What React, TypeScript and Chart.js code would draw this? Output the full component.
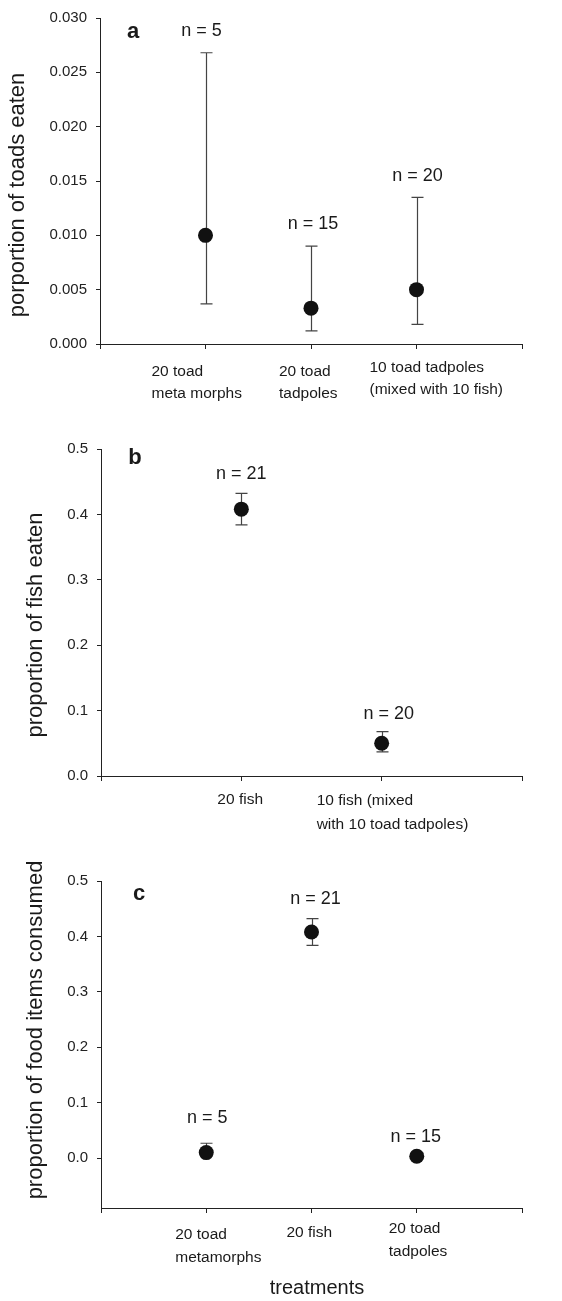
import { useEffect, useRef } from "react";
import { Chart, registerables } from "chart.js";
Chart.register(...registerables);

const FONT = '"Liberation Sans", Arial, Helvetica, sans-serif';

// ---------- Panel a ----------
const catsA = [["20 toad", "meta morphs"], ["20 toad", "tadpoles"], ["10 toad tadpoles", "(mixed with 10 fish)"]];
const meanA = [0.01, 0.0033, 0.005];
const lowA = [0.0037, 0.0012, 0.0018];
const highA = [0.0268, 0.009, 0.0135];
const nA = ["n = 5", "n = 15", "n = 20"];
const yTicksA = [0, 0.005, 0.01, 0.015, 0.02, 0.025, 0.03];
const yTitleA = "porportion of toads eaten";

// ---------- Panel b ----------
const catsB = [["20 fish"], ["10 fish (mixed", "with 10 toad tadpoles)"]];
const meanB = [0.408, 0.05];
const lowB = [0.384, 0.037];
const highB = [0.432, 0.068];
const nB = ["n = 21", "n = 20"];
const yTicksB = [0, 0.1, 0.2, 0.3, 0.4, 0.5];
const yTitleB = "proportion of fish eaten";

// ---------- Panel c ----------
const catsC = [["20 toad", "metamorphs"], ["20 fish"], ["20 toad", "tadpoles"]];
const meanC = [0.01, 0.408, 0.0033];
const lowC = [0.0037, 0.384, 0.0012];
const highC = [0.0268, 0.432, 0.009];
const nC = ["n = 5", "n = 21", "n = 15"];
const yTicksC = [0, 0.1, 0.2, 0.3, 0.4, 0.5];
const yTitleC = "proportion of food items consumed";
const xTitleC = "treatments";

type Panel = {
  cats: string[][]; mean: number[]; low: number[]; high: number[]; n: string[];
  yTicks: number[]; yTitle: string; xTitle?: string; letter: string;
  yMin: number; yMax: number; dec: number;
  style: any;
};

const panels: Panel[] = [
  {
    cats: catsA, mean: meanA, low: lowA, high: highA, n: nA, yTicks: yTicksA, yTitle: yTitleA, letter: "a",
    yMin: 0, yMax: 0.03, dec: 3,
    style: {
      top: 0, height: 412, area: { left: 100, top: 17, right: 522, bottom: 344 },
      letterPos: [133, 38], yTitlePos: [18, 195],
      catDx: [-54, -32, -47], catDy: [28, 28, 24], lineH: 22,
      nOff: [[-4, -21.5], [2, -22], [1, -21.5]],
    },
  },
  {
    cats: catsB, mean: meanB, low: lowB, high: highB, n: nB, yTicks: yTicksB, yTitle: yTitleB, letter: "b",
    yMin: 0, yMax: 0.5, dec: 1,
    style: {
      top: 420, height: 420, area: { left: 101, top: 29, right: 522, bottom: 356 },
      letterPos: [135, 44], yTitlePos: [36, 205],
      catDx: [-24, -65], catDy: [24, 25], lineH: 24,
      nOff: [[0, -19], [7, -17]],
    },
  },
  {
    cats: catsC, mean: meanC, low: lowC, high: highC, n: nC, yTicks: yTicksC, yTitle: yTitleC, xTitle: xTitleC, letter: "c",
    yMin: -0.09, yMax: 0.5, dec: 1,
    style: {
      top: 840, height: 461, area: { left: 101, top: 41, right: 522, bottom: 368 },
      letterPos: [139, 60], yTitlePos: [36, 190], xTitlePos: [317, 448],
      catDx: [-31, -25, -28], catDy: [27, 25, 21], lineH: 23,
      nOff: [[1, -25], [4, -19.5], [-1, -16.5]],
    },
  },
];

function makePlugin(p: Panel) {
  const s = p.style;
  return {
    id: "errbarsText",
    beforeDatasetsDraw(chart: any) {
      const ctx = chart.ctx;
      const xs = chart.scales.x;
      const ys = chart.scales.y;
      ctx.save();
      ctx.strokeStyle = "#444";
      ctx.lineWidth = 1.2;
      p.mean.forEach((_m, i) => {
        const px = Math.round(xs.getPixelForValue(i + 1)) + 0.5;
        const pl = ys.getPixelForValue(p.low[i]);
        const ph = ys.getPixelForValue(p.high[i]);
        ctx.beginPath();
        ctx.moveTo(px, pl);
        ctx.lineTo(px, ph);
        ctx.moveTo(px - 6, ph);
        ctx.lineTo(px + 6, ph);
        ctx.moveTo(px - 6, pl);
        ctx.lineTo(px + 6, pl);
        ctx.stroke();
      });
      ctx.restore();
    },
    afterDraw(chart: any) {
      const ctx = chart.ctx;
      const xs = chart.scales.x;
      const ys = chart.scales.y;
      const axisY = chart.chartArea.bottom;
      ctx.save();
      ctx.fillStyle = "#1a1a1a";
      // n labels
      ctx.font = `18px ${FONT}`;
      ctx.textAlign = "center";
      ctx.textBaseline = "middle";
      p.n.forEach((t, i) => {
        const px = xs.getPixelForValue(i + 1) + s.nOff[i][0];
        const py = ys.getPixelForValue(p.high[i]) + s.nOff[i][1];
        ctx.fillText(t, px, py);
      });
      // category labels
      ctx.font = `15.5px ${FONT}`;
      ctx.textAlign = "left";
      p.cats.forEach((lines, i) => {
        const px = xs.getPixelForValue(i + 1) + s.catDx[i];
        lines.forEach((ln, j) => {
          ctx.fillText(ln, px, axisY + s.catDy[i] + j * s.lineH);
        });
      });
      // panel letter
      ctx.font = `bold 22px ${FONT}`;
      ctx.textAlign = "center";
      ctx.textBaseline = "alphabetic";
      ctx.fillText(p.letter, s.letterPos[0], s.letterPos[1]);
      // y title
      ctx.font = `22px ${FONT}`;
      ctx.textBaseline = "middle";
      ctx.save();
      ctx.translate(s.yTitlePos[0], s.yTitlePos[1]);
      ctx.rotate(-Math.PI / 2);
      ctx.fillText(p.yTitle, 0, 0);
      ctx.restore();
      // x title
      if (p.xTitle) {
        ctx.font = `20px ${FONT}`;
        ctx.fillText(p.xTitle, s.xTitlePos[0], s.xTitlePos[1]);
      }
      ctx.restore();
    },
  };
}

function PanelChart({ p }: { p: Panel }) {
  const ref = useRef<HTMLCanvasElement>(null);
  const s = p.style;
  useEffect(() => {
    if (!ref.current) return;
    const k = p.mean.length;
    const xTicks = Array.from({ length: k + 2 }, (_v, i) => i);
    const chart = new Chart(ref.current, {
      type: "scatter",
      data: {
        datasets: [
          {
            data: p.mean.map((m, i) => ({ x: i + 1, y: m })),
            pointRadius: 7.5,
            pointHoverRadius: 7.5,
            backgroundColor: "#111",
            borderColor: "#111",
            borderWidth: 0,
            showLine: false,
          } as any,
        ],
      },
      options: {
        responsive: false,
        animation: false,
        devicePixelRatio: 1,
        events: [],
        layout: { padding: { top: s.area.top, right: 562 - s.area.right, left: 0, bottom: 0 } },
        plugins: { legend: { display: false }, tooltip: { enabled: false } },
        scales: {
          x: {
            type: "linear",
            min: 0,
            max: k + 1,
            afterBuildTicks: (sc: any) => {
              sc.ticks = xTicks.map((v) => ({ value: v }));
            },
            afterFit: (sc: any) => {
              sc.height = s.height - s.area.bottom;
            },
            ticks: { display: false },
            grid: { display: true, drawOnChartArea: false, drawTicks: true, tickLength: 5, color: "#222", lineWidth: 1 },
            border: { display: true, color: "#222", width: 1 },
          },
          y: {
            type: "linear",
            min: p.yMin,
            max: p.yMax,
            afterBuildTicks: (sc: any) => {
              sc.ticks = p.yTicks.map((v) => ({ value: v }));
            },
            afterFit: (sc: any) => {
              sc.width = s.area.left;
            },
            ticks: {
              callback: (v: any) => Number(v).toFixed(p.dec),
              font: { family: FONT, size: 15 },
              color: "#222",
              padding: 9,
            },
            grid: { display: true, drawOnChartArea: false, drawTicks: true, tickLength: 4, color: "#222", lineWidth: 1 },
            border: { display: true, color: "#222", width: 1 },
          },
        },
      } as any,
      plugins: [makePlugin(p)],
    });
    return () => chart.destroy();
  }, []);
  return (
    <canvas
      ref={ref}
      width={562}
      height={s.height}
      style={{ position: "absolute", left: 0, top: s.top, width: 562, height: s.height }}
    />
  );
}

export default function App() {
  return (
    <div style={{ position: "absolute", left: 0, top: 0, width: 562, height: 1301, background: "#fff" }}>
      {panels.map((p, i) => (
        <PanelChart key={i} p={p} />
      ))}
    </div>
  );
}
